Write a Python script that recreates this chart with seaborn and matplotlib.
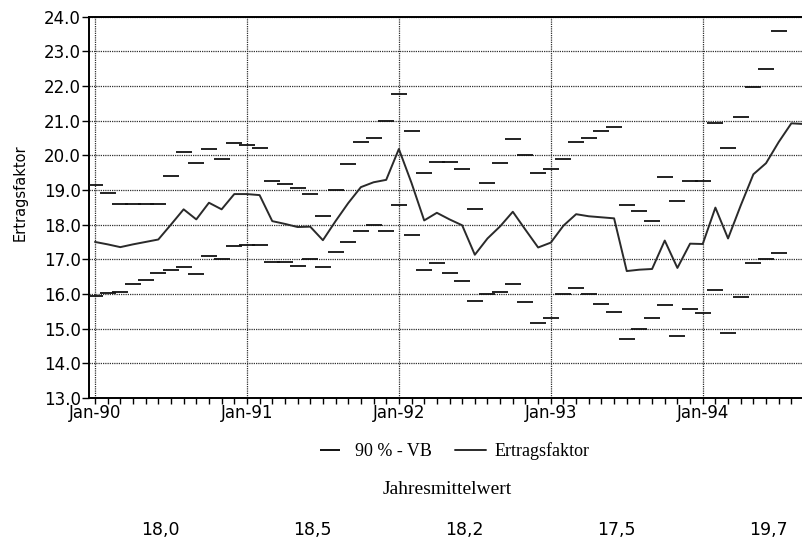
import numpy as np
import pandas as pd
import matplotlib
matplotlib.use("Agg")
import matplotlib.pyplot as plt
import matplotlib.transforms as mtransforms
from matplotlib.lines import Line2D
from matplotlib.ticker import FormatStrFormatter
import seaborn as sns

# Monthly Ertragsfaktor, Jan 1990 - Sep 1994
ertragsfaktor = [
    17.50, 17.43, 17.35, 17.43, 17.50, 17.57, 18.00, 18.44, 18.15, 18.63, 18.44, 18.88,
    18.88, 18.85, 18.10, 18.02, 17.93, 17.94, 17.55, 18.10, 18.62, 19.08, 19.22, 19.29,
    20.18, 19.20, 18.12, 18.34, 18.15, 17.98, 17.13, 17.60, 17.95, 18.37, 17.85, 17.34,
    17.48, 17.97, 18.30, 18.24, 18.21, 18.18, 16.66, 16.70, 16.72, 17.54, 16.75, 17.45,
    17.44, 18.49, 17.60, 18.55, 19.45, 19.77, 20.38, 20.92, 20.90,
]

# 90 % confidence band (upper / lower bound), Jan 1990 - Jul 1994
vb_oben = [
    19.13, 18.90, 18.59, 18.59, 18.59, 18.59, 19.40, 20.09, 19.78, 20.19, 19.88, 20.35,
    20.29, 20.20, 19.26, 19.16, 19.06, 18.87, 18.25, 19.00, 19.74, 20.38, 20.50, 21.00,
    21.76, 20.70, 19.50, 19.80, 19.80, 19.60, 18.46, 19.20, 19.77, 20.46, 20.00, 19.50,
    19.60, 19.90, 20.38, 20.50, 20.70, 20.82, 18.57, 18.40, 18.09, 19.38, 18.69, 19.27,
    19.27, 20.92, 20.21, 21.10, 21.98, 22.48, 23.57,
]
vb_unten = [
    15.93, 16.03, 16.07, 16.30, 16.39, 16.60, 16.68, 16.77, 16.58, 17.08, 17.00, 17.38,
    17.40, 17.40, 16.92, 16.92, 16.80, 17.00, 16.79, 17.20, 17.50, 17.82, 18.00, 17.82,
    18.57, 17.70, 16.68, 16.90, 16.60, 16.38, 15.80, 16.00, 16.06, 16.29, 15.77, 15.17,
    15.32, 16.00, 16.17, 16.00, 15.70, 15.47, 14.70, 14.99, 15.30, 15.69, 14.78, 15.57,
    15.46, 16.10, 14.88, 15.90, 16.90, 17.00, 17.19,
]

jahres_ticks = ["Jan-90", "Jan-91", "Jan-92", "Jan-93", "Jan-94"]
jahresmittel = [18.0, 18.5, 18.2, 17.5, 19.7]

sns.set_theme(style="white")
plt.rcParams["font.family"] = ["DejaVu Sans"]
plt.rcParams["text.color"] = "black"

W, H = 802, 549
fig = plt.figure(figsize=(W / 100, H / 100), dpi=100)
ax = fig.add_axes([89 / W, 1 - 398 / H, 714 / W, 381.5 / H])

monate = np.arange(len(ertragsfaktor))
df_linie = pd.DataFrame({"monat": monate, "wert": ertragsfaktor})
vb_monate = np.arange(len(vb_oben))
df_vb = pd.DataFrame({
    "monat": np.concatenate([vb_monate, vb_monate]),
    "wert": vb_oben + vb_unten,
})

# confidence bounds as short horizontal dashes, one per month
sns.scatterplot(data=df_vb, x="monat", y="wert", marker="_", s=130,
                linewidth=1.3, color="#111111", ax=ax, legend=False, zorder=3)
sns.lineplot(data=df_linie, x="monat", y="wert", color="#2a2a2a",
             linewidth=1.4, ax=ax, legend=False, zorder=4)

ax.set_xlim(-0.474, 55.92)
ax.set_ylim(13, 24)
ax.set_yticks(np.arange(13, 24.5, 1))
ax.yaxis.set_major_formatter(FormatStrFormatter("%.1f"))
ax.set_xticks([0, 12, 24, 36, 48])
ax.set_xticklabels(jahres_ticks)
ax.set_xticks(np.arange(0, 56), minor=True)
ax.set_xlabel("")
ax.set_ylabel("Ertragsfaktor", fontsize=10.5, color="black")
ax.yaxis.set_label_coords(-0.0854, 0.537)

ax.grid(True, which="major", color="#303030", linestyle=(0, (1.0, 0.8)),
        linewidth=0.9)
ax.tick_params(axis="both", which="both", direction="out", color="black",
               width=1.0, labelsize=12, labelcolor="black")
ax.tick_params(axis="y", which="major", left=True, length=5, pad=1)
ax.tick_params(axis="x", which="both", bottom=True, length=4.5, pad=0)

for side in ("left", "top", "bottom"):
    ax.spines[side].set_color("black")
    ax.spines[side].set_linewidth(1.4)
ax.spines["right"].set_visible(False)

handles = [
    Line2D([], [], marker="_", linestyle="none", color="#111111",
           markersize=14, markeredgewidth=1.4),
    Line2D([], [], color="#2a2a2a", linewidth=1.4),
]
fig.legend(handles, ["90 % - VB", "Ertragsfaktor"], loc="center",
           bbox_to_anchor=(0.564, 1 - 451 / H), ncol=2, frameon=False,
           prop={"family": "Liberation Serif", "size": 13},
           handlelength=1.7, columnspacing=1.3, handletextpad=0.5)

fig.text(447 / W, 1 - 490 / H, "Jahresmittelwert", ha="center", va="center",
         family="Liberation Serif", size=14)

trans = mtransforms.blended_transform_factory(ax.transData, fig.transFigure)
for i, wert in enumerate(jahresmittel):
    ax.text(i * 12 + 5.2, 1 - 530 / H, f"{wert:.1f}".replace(".", ","),
            transform=trans, ha="center", va="center", size=12.5)

fig.savefig("out.png", dpi=100, facecolor="white")
